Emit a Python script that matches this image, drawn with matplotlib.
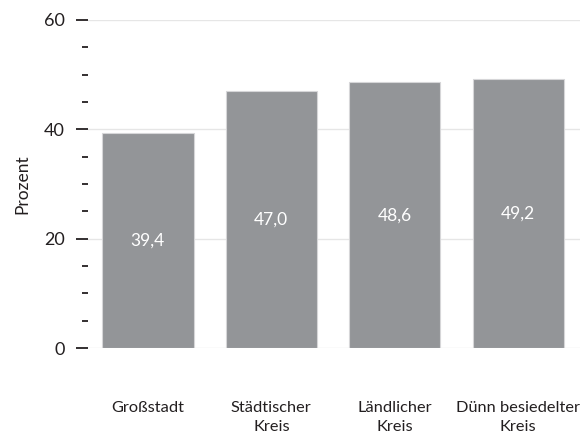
import numpy as np
import matplotlib.pyplot as plt
from matplotlib.ticker import MultipleLocator

# Data
categories = ["Großstadt", "Städtischer\nKreis", "Ländlicher\nKreis", "Dünn besiedelter\nKreis"]
values = [39.4, 47.0, 48.6, 49.2]
value_labels = ["39,4", "47,0", "48,6", "49,2"]

plt.rcParams["font.family"] = ["Lato", "DejaVu Sans"]

fig = plt.figure(figsize=(5.81, 4.4), dpi=100)
ax = fig.add_axes([88 / 581, (440 - 348) / 440, (580 - 88) / 581, (348 - 20) / 440])

x = np.arange(len(categories))
bars = ax.bar(x, values, width=0.74, color="#939598", edgecolor="#d6d6d8", linewidth=0.8, zorder=2)

for b, lab in zip(bars, value_labels):
    ax.text(b.get_x() + b.get_width() / 2, b.get_height() / 2, lab,
            ha="center", va="center", color="white", fontsize=12.5)

ax.set_xlim(-0.485, 3.5)
ax.set_ylim(0, 60)
ax.yaxis.set_major_locator(MultipleLocator(20))
ax.yaxis.set_minor_locator(MultipleLocator(5))
ax.grid(axis="y", which="major", color="#e6e6e6", linewidth=1, zorder=0)

for s in ax.spines.values():
    s.set_visible(False)

ax.tick_params(axis="y", which="major", length=8.5, width=1.3, color="#231f20",
               pad=8, labelsize=13, labelcolor="#231f20")
ax.tick_params(axis="y", which="minor", length=4.3, width=1.3, color="#231f20")
ax.set_xticks(x)
ax.set_xticklabels(categories, fontsize=11.8, color="#231f20", linespacing=1.5)
ax.tick_params(axis="x", length=0, pad=38)

ax.set_ylabel("Prozent", fontsize=12.5, color="#231f20", labelpad=10)

fig.savefig("out.png", dpi=100)
